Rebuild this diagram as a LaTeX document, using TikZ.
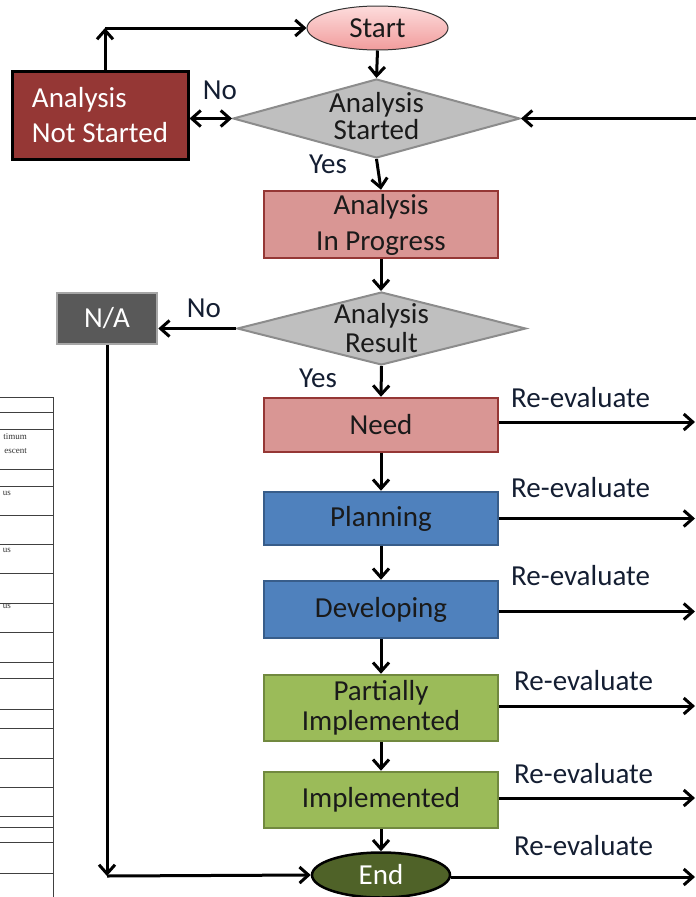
\documentclass[tikz,border=0pt]{standalone}
\usepackage{fontspec}
\setmainfont{Carlito}
\newfontfamily\tabfont{Liberation Serif}
\usetikzlibrary{shapes.geometric,arrows.meta}
\definecolor{startTop}{HTML}{FDDCDC}
\definecolor{startBot}{HTML}{F19C9C}
\definecolor{diaFill}{HTML}{BFBFBF}
\definecolor{diaLine}{HTML}{8C8C8C}
\definecolor{darkRed}{HTML}{953735}
\definecolor{lightRed}{HTML}{D99694}
\definecolor{blueFill}{HTML}{4F81BD}
\definecolor{blueLine}{HTML}{385D8A}
\definecolor{greenFill}{HTML}{9BBB59}
\definecolor{greenLine}{HTML}{71893F}
\definecolor{naFill}{HTML}{595959}
\definecolor{naLine}{HTML}{A6A6A6}
\definecolor{endFill}{HTML}{4F6228}
\definecolor{lblCol}{HTML}{141E32}
\definecolor{boxText}{HTML}{1A1A1A}
\begin{document}
\begin{tikzpicture}[x=1pt,y=-1pt,
  >={Straight Barb[length=9pt,width=16pt]},
  arr/.style={line width=3pt,->},
  txt/.style={font=\fontsize{29}{35}\selectfont},
  lbl/.style={txt,text=lblCol,anchor=base,inner sep=0pt},
  rlbl/.style={txt,text=lblCol,anchor=base west,inner sep=0pt},
  stepbox/.style={rectangle,txt,text=boxText,minimum width=234pt,inner sep=0pt,line width=2.5pt,align=center},
  redbox/.style={stepbox,fill=lightRed,draw=darkRed},
  bluebox/.style={stepbox,fill=blueFill,draw=blueLine},
  greenbox/.style={stepbox,fill=greenFill,draw=greenLine},
  dia/.style={diamond,fill=diaFill,draw=diaLine,line width=2pt,inner sep=0pt},
  tbl/.style={line width=1pt,draw=black!75},
  tbltxt/.style={font=\tabfont\fontsize{9}{10}\selectfont,text=black!80,inner sep=0pt,anchor=east}
]
\useasboundingbox (0,0) rectangle (696,897);

% partial table at the left edge
\draw[tbl] (53,397) -- (53,897);
\foreach \yy in {397,412,429,469,486,515,544,573,603,632,662,678,709,728,758,787,816,827,842,873}
  \draw[tbl] (0,\yy) -- (53,\yy);
\node[tbltxt] (t1) at (27,437) {timum};
\node[tbltxt] (t2) at (27,451) {escent};
\node[tbltxt] (t3) at (11,493) {us};
\node[tbltxt] (t4) at (11,550) {us};
\node[tbltxt] (t5) at (11,606) {us};

% nodes
\node[ellipse,minimum width=141pt,minimum height=44pt,inner sep=0pt,draw=black!80,line width=1pt,
      top color=startTop,bottom color=startBot,txt,text=boxText] (start) at (377.5,28) {Start};
\node[dia,minimum width=287pt,minimum height=79pt,
      label={[txt,text=boxText,align=center,font=\fontsize{29}{27}\selectfont,yshift=2pt]center:{Analysis\\Started}}] (d1) at (376.5,118.5) {};
\node[rectangle,fill=darkRed,draw=black,line width=3pt,minimum width=176pt,minimum height=88pt,inner sep=0pt,
      txt,text=white,align=left,font=\fontsize{29}{35}\selectfont] (ans) at (100,115) {Analysis\\Not Started};
\node[redbox,minimum height=67pt,font=\fontsize{29}{36}\selectfont] (ip) at (381,224.5) {Analysis\\In Progress};
\node[dia,minimum width=289pt,minimum height=73pt,
      label={[txt,text=boxText,align=center,font=\fontsize{29}{29}\selectfont]center:{Analysis\\Result}}] (d2) at (381.5,328.5) {};
\node[rectangle,fill=naFill,draw=naLine,line width=2.5pt,minimum width=100pt,minimum height=51pt,inner sep=0pt,
      txt,text=white] (na) at (107,318.5) {N/A};
\node[redbox,minimum height=54pt] (need) at (381,425) {Need};
\node[bluebox,minimum height=53pt] (plan) at (381,518.5) {Planning};
\node[bluebox,minimum height=57pt] (dev) at (381,609.5) {Developing};
\node[greenbox,minimum height=66pt,font=\fontsize{29}{30}\selectfont] (part) at (381,708) {Partially\\Implemented};
\node[greenbox,minimum height=56pt] (impl) at (381,800) {Implemented};
\node[ellipse,minimum width=138pt,minimum height=45pt,inner sep=0pt,fill=endFill,draw=black,line width=2.5pt,
      txt,text=white] (end) at (381,875) {End};

% helper coordinates
\coordinate (c1) at (105,28);
\coordinate (c2) at (107,876);
\coordinate (rin) at (696,118.5);
\coordinate (redge) at (695,0);

% connectors
\draw[arr] (start.south) -- (d1.north);
\draw[arr,<->] (d1.west) -- (d1.west -| ans.east);
\draw[arr] (ans.north -| c1) -- (c1);
\draw[arr] (c1) -- (start.west);
\draw[arr] (rin) -- (d1.east);
\draw[arr] (d1.south) -- (ip.north);
\draw[arr] (ip.south) -- (ip.south |- d2.north);
\draw[arr] (d2.west) -- (d2.west -| na.east);
\draw[arr] (na.south) -- (na.south |- c2);
\draw[arr] (na.south |- c2) -- (end.west);
\draw[arr] (d2.south) -- (need.north);
\draw[arr] (need) -- (plan);
\draw[arr] (plan) -- (dev);
\draw[arr] (dev) -- (part);
\draw[arr] (part) -- (impl);
\draw[arr] (impl) -- (end);

% re-evaluate exits
\draw[arr] ([yshift=3pt]need.east) -- ([yshift=3pt]need.east -| redge);
\draw[arr] (plan.east) -- (plan.east -| redge);
\draw[arr] ([yshift=-2pt]dev.east) -- ([yshift=-2pt]dev.east -| redge);
\draw[arr] ([yshift=2pt]part.east) -- ([yshift=2pt]part.east -| redge);
\draw[arr] ([yshift=2pt]impl.east) -- ([yshift=2pt]impl.east -| redge);
\draw[arr] ([yshift=-2pt]end.east) -- ([yshift=-2pt]end.east -| redge);

% labels
\node[lbl] (no1) at (220,99) {No};
\node[lbl] (yes1) at (328,173) {Yes};
\node[lbl] (no2) at (204,317) {No};
\node[lbl] (yes2) at (318,387) {Yes};
\node[rlbl] (r1) at (511,407) {Re-evaluate};
\node[rlbl] (r2) at (511,497) {Re-evaluate};
\node[rlbl] (r3) at (511,585) {Re-evaluate};
\node[rlbl] (r4) at (514,690) {Re-evaluate};
\node[rlbl] (r5) at (514,783) {Re-evaluate};
\node[rlbl] (r6) at (514,855) {Re-evaluate};
\end{tikzpicture}
\end{document}
